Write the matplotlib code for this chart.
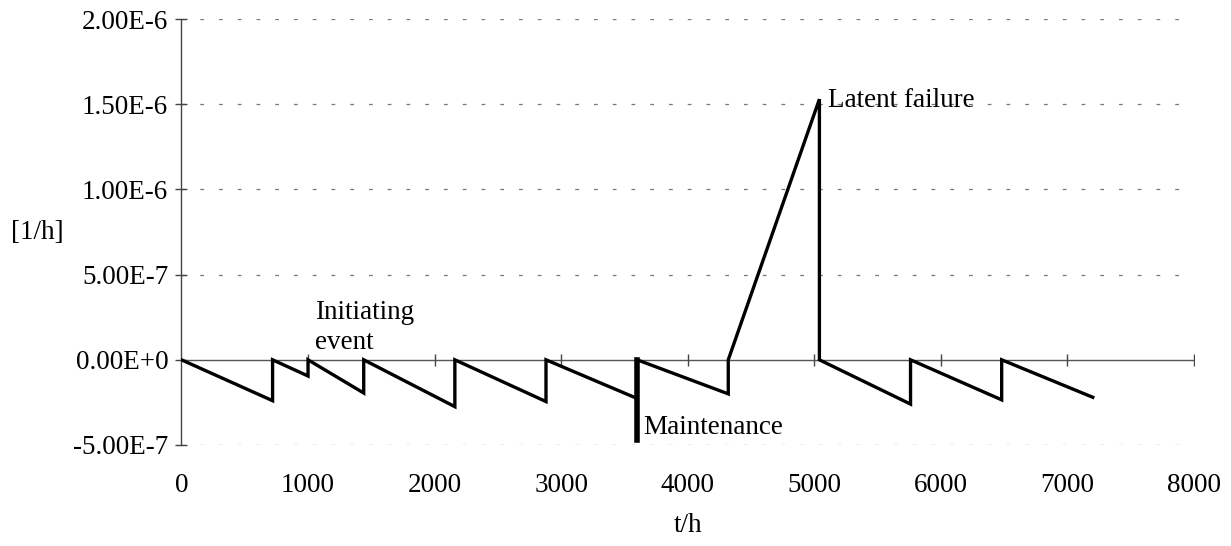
import matplotlib
matplotlib.use("Agg")
import matplotlib.pyplot as plt

# sawtooth of the risk rate
t_h = [0, 720, 720, 1000, 1000, 1440, 1440, 2160, 2160, 2880, 2880,
       3600, 3600, 4320, 4320, 5040, 5040, 5760, 5760, 6480, 6480, 7200]
rate = [0, -2.40e-7, 0, -0.95e-7, 0, -1.95e-7, 0, -2.75e-7, 0, -2.45e-7, 0,
        -2.27e-7, 0, -2.0e-7, 0, 1.53e-6, 0, -2.6e-7, 0, -2.35e-7, 0, -2.2e-7]
maint_t = [3600, 3600]
maint_rate = [0, -4.7e-7]

xticks = [0, 1000, 2000, 3000, 4000, 5000, 6000, 7000, 8000]
yticks = [-5e-7, 0, 5e-7, 1e-6, 1.5e-6, 2e-6]
ylabels = ["-5.00E-7", "0.00E+0", "5.00E-7", "1.00E-6", "1.50E-6", "2.00E-6"]

plt.rcParams['font.family'] = ['Liberation Serif', 'DejaVu Serif']
fs = 19.5

fig = plt.figure(figsize=(12.31, 5.46), dpi=100)
ax = fig.add_axes([0.1474, 0.185, 0.8226, 0.78])

ax.set_xlim(0, 8000)
ax.set_ylim(-5e-7, 2e-6)

# dashed grid at every y tick (not at zero, that is the time axis)
for yv in yticks:
    if yv != 0:
        ax.axhline(yv, color="#777777", lw=0.9, ls=(0, (3, 12)), zorder=1)
ax.axhline(0, color="#555555", lw=1.0, zorder=2)
ax.plot(xticks[1:], [0] * (len(xticks) - 1), ls="none", marker="|",
        color="#444444", ms=9, mew=1.0, zorder=2)

ax.plot(t_h, rate, color="black", lw=2.4, zorder=3, solid_joinstyle="miter")
ax.plot(maint_t, maint_rate, color="black", lw=4.0, zorder=3)

ax.text(1055, 0.03e-6, "Initiating\nevent", fontsize=fs, ha="left", va="bottom",
        linespacing=1.25)
ax.text(3650, -3.95e-7, "Maintenance", fontsize=fs, ha="left", va="center")
ax.text(5110, 1.52e-6, "Latent failure", fontsize=fs, ha="left", va="center")

for s in ["top", "right", "bottom"]:
    ax.spines[s].set_visible(False)
ax.spines["left"].set_color("#444444")
ax.spines["left"].set_linewidth(1.0)

ax.set_xticks(xticks)
ax.set_xticklabels([str(v) for v in xticks])
ax.set_yticks(yticks)
ax.set_yticklabels(ylabels)
ax.tick_params(axis="x", length=0, labelsize=fs, pad=20)
ax.tick_params(axis="y", direction="inout", length=9, width=1.0,
               color="#444444", labelsize=fs, pad=5)

fig.text(0.03, 0.575, "[1/h]", fontsize=fs, ha="center", va="center")
fig.text(0.559, 0.038, "t/h", fontsize=fs, ha="center", va="center")

fig.savefig("out.png", dpi=100)
